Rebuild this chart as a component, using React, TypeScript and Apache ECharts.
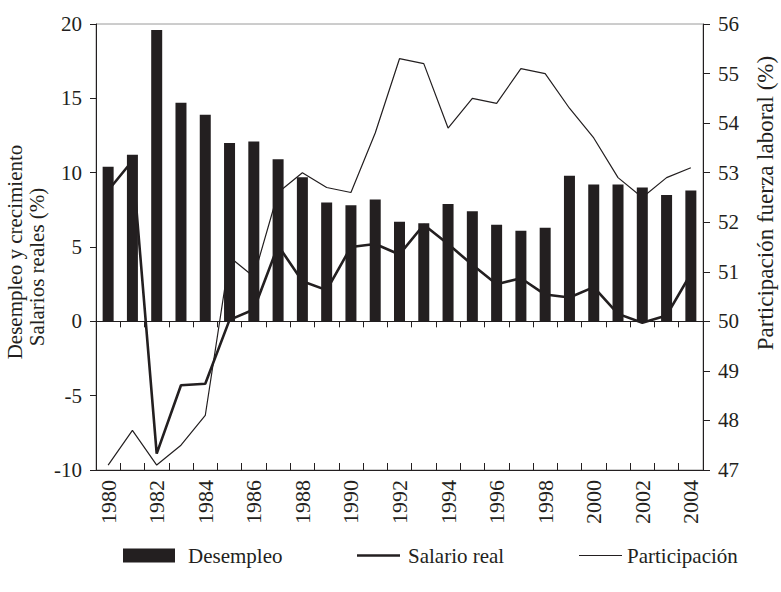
import React, { useEffect, useRef } from "react";
import * as echarts from "echarts";

const years = [
  "1980", "1981", "1982", "1983", "1984", "1985", "1986", "1987", "1988", "1989",
  "1990", "1991", "1992", "1993", "1994", "1995", "1996", "1997", "1998", "1999",
  "2000", "2001", "2002", "2003", "2004",
];
const desempleo = [
  10.4, 11.2, 19.6, 14.7, 13.9, 12.0, 12.1, 10.9, 9.7, 8.0,
  7.8, 8.2, 6.7, 6.6, 7.9, 7.4, 6.5, 6.1, 6.3, 9.8,
  9.2, 9.2, 9.0, 8.5, 8.8,
];
const salarioReal = [
  8.8, 10.8, -8.9, -4.3, -4.2, 0.1, 0.8, 5.1, 2.7, 2.1,
  5.0, 5.2, 4.5, 6.5, 5.2, 3.8, 2.5, 2.9, 1.8, 1.6,
  2.3, 0.5, -0.1, 0.4, 3.2,
];
const participacion = [
  47.1, 47.8, 47.1, 47.5, 48.1, 51.3, 50.9, 52.6, 53.0, 52.7,
  52.6, 53.8, 55.3, 55.2, 53.9, 54.5, 54.4, 55.1, 55.0, 54.3,
  53.7, 52.9, 52.5, 52.9, 53.1,
];

const INK = "#231f20";
const FONT = "Liberation Serif";

export default function App() {
  const ref = useRef<HTMLDivElement>(null);
  useEffect(() => {
    const chart = echarts.init(ref.current!, null, { renderer: "svg" });
    const axisLine = { lineStyle: { color: INK, width: 1 } };
    const legendText = { fontSize: 21, color: INK, fontFamily: FONT };
    chart.setOption({
      animation: false,
      backgroundColor: "#fff",
      textStyle: { fontFamily: FONT, color: INK },
      grid: {
        left: 96, right: 78, top: 24, bottom: 122,
        show: true, borderColor: "#9a9a9a", borderWidth: 1,
      },
      xAxis: [
        {
          type: "category", data: years, position: "bottom",
          axisLine: { ...axisLine, onZero: true, onZeroAxisIndex: 0 },
          axisTick: { show: true, inside: false, length: 6, interval: 0, lineStyle: { color: INK } },
          axisLabel: { show: false },
          splitLine: { show: false },
        },
        {
          type: "category", data: years, position: "bottom",
          axisLine: { ...axisLine, onZero: false },
          axisTick: { show: true, inside: true, length: 7, interval: 0, lineStyle: { color: INK } },
          axisLabel: { interval: 1, rotate: 90, fontSize: 22, margin: 10, color: INK, fontFamily: FONT },
          splitLine: { show: false },
        },
      ],
      yAxis: [
        {
          type: "value", min: -10, max: 20, interval: 5, position: "left",
          axisLine: { show: true, ...axisLine },
          axisTick: { show: true, length: 6, lineStyle: { color: INK } },
          axisLabel: { fontSize: 21, margin: 14, color: INK, fontFamily: FONT },
          splitLine: { show: false },
        },
        {
          type: "value", min: 47, max: 56, interval: 1, position: "right",
          axisLine: { show: true, ...axisLine },
          axisTick: { show: true, length: 7, lineStyle: { color: INK } },
          axisLabel: { fontSize: 21, margin: 15, color: INK, fontFamily: FONT },
          splitLine: { show: false },
        },
      ],
      legend: [
        {
          data: [{ name: "Desempleo", icon: "rect" }], left: 118, top: 540,
          itemWidth: 52, itemHeight: 14, selectedMode: false,
          textStyle: { ...legendText, padding: [0, 0, 0, 8] },
        },
        {
          data: [{ name: "Salario real", icon: "rect" }], left: 352, top: 540,
          itemWidth: 43, itemHeight: 2.6, selectedMode: false,
          itemStyle: { color: INK, borderWidth: 0 },
          textStyle: { ...legendText, padding: [0, 0, 0, 3] },
        },
        {
          data: [{ name: "Participación", icon: "rect" }], left: 574, top: 540,
          itemWidth: 43, itemHeight: 1.2, selectedMode: false,
          itemStyle: { color: INK, borderWidth: 0 },
          textStyle: legendText,
        },
      ],
      graphic: [
        {
          type: "text", x: 15, y: 252, rotation: Math.PI / 2,
          style: { text: "Desempleo y crecimiento", font: `21px "${FONT}"`, fill: INK, align: "center", verticalAlign: "middle" },
        },
        {
          type: "text", x: 37, y: 267, rotation: Math.PI / 2,
          style: { text: "Salarios reales (%)", font: `21px "${FONT}"`, fill: INK, align: "center", verticalAlign: "middle" },
        },
        {
          type: "text", x: 765, y: 203, rotation: Math.PI / 2,
          style: { text: "Participación fuerza laboral (%)", font: `23px "${FONT}"`, fill: INK, align: "center", verticalAlign: "middle" },
        },
      ],
      series: [
        {
          name: "Desempleo", type: "bar", data: desempleo, xAxisIndex: 0, yAxisIndex: 0,
          barWidth: 11, itemStyle: { color: INK }, z: 4,
        },
        {
          name: "Salario real", type: "line", data: salarioReal, xAxisIndex: 0, yAxisIndex: 0,
          symbol: "none", lineStyle: { color: INK, width: 2.6 }, itemStyle: { color: INK }, z: 2,
        },
        {
          name: "Participación", type: "line", data: participacion, xAxisIndex: 0, yAxisIndex: 1,
          symbol: "none", lineStyle: { color: INK, width: 1.2 }, itemStyle: { color: INK }, z: 2,
        },
      ],
    });
    return () => chart.dispose();
  }, []);
  return (
    <div
      ref={ref}
      style={{ position: "fixed", left: 0, top: 0, width: 781, height: 592 }}
    />
  );
}
